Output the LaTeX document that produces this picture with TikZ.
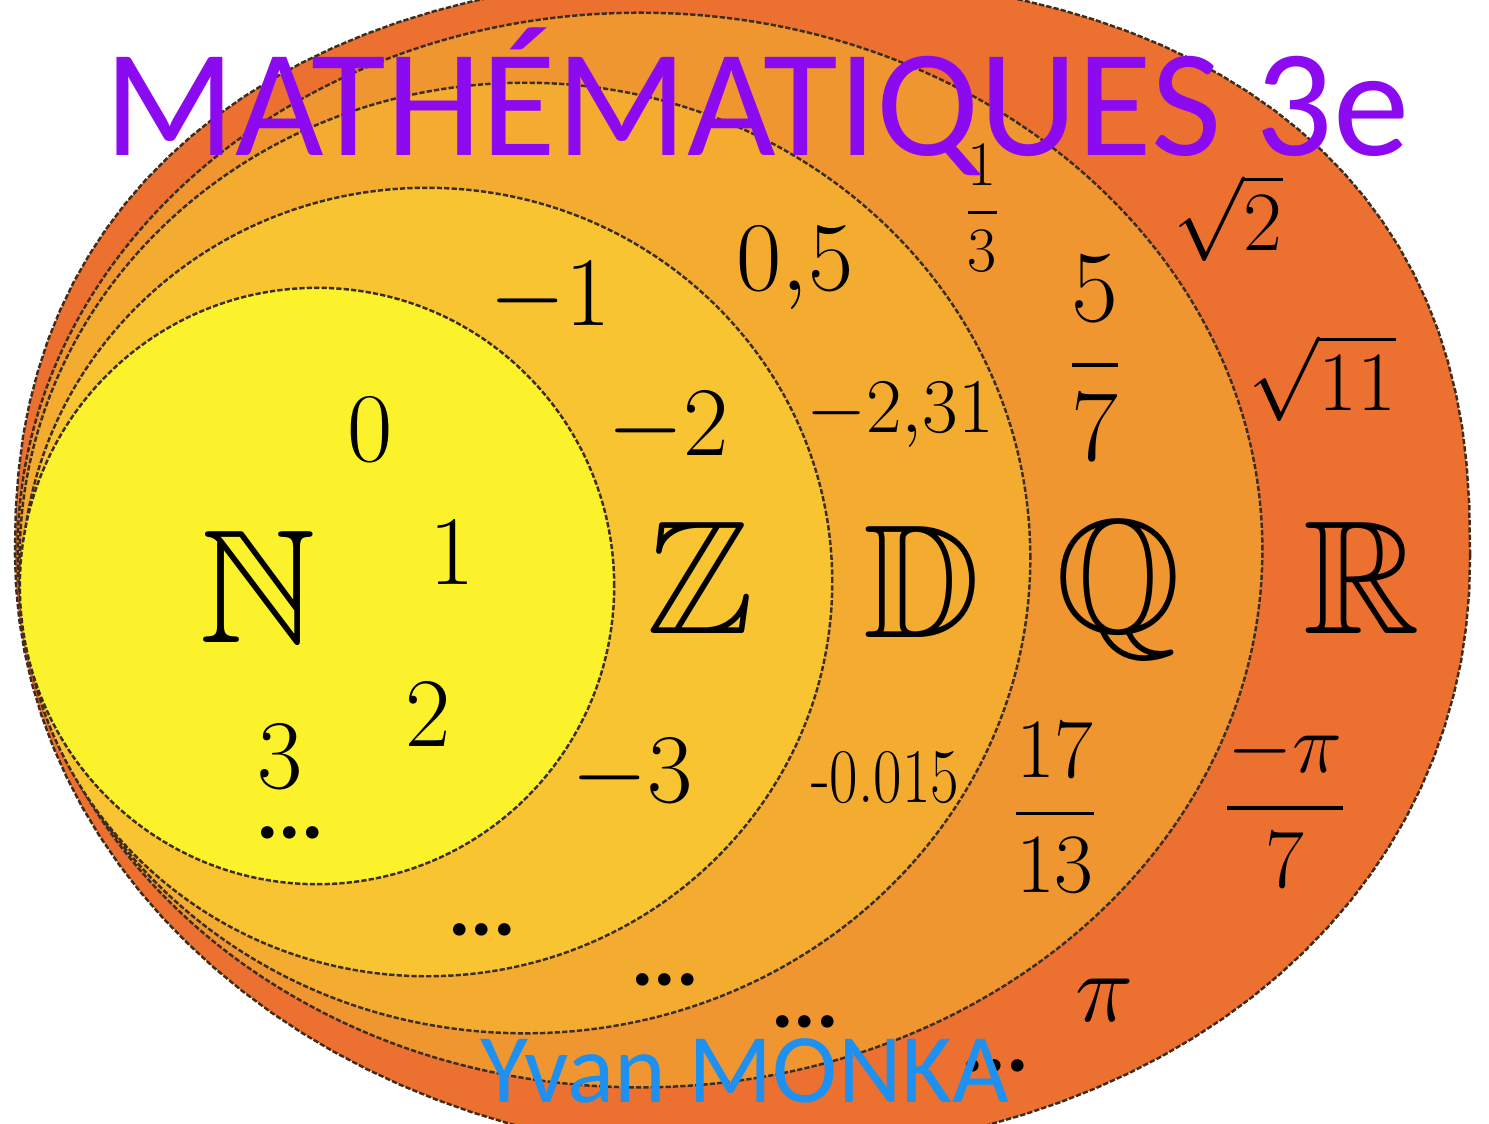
\RequirePackage{fix-cm}
\documentclass[tikz,border=0pt]{standalone}
\usepackage{amsmath}
\usepackage{amssymb}
\usepackage{fontspec}
\newfontfamily\titlefont{Carlito}
\usetikzlibrary{positioning}
\definecolor{setN}{RGB}{252,242,44}
\definecolor{setZ}{RGB}{248,196,50}
\definecolor{setD}{RGB}{243,172,48}
\definecolor{setQ}{RGB}{240,150,48}
\definecolor{setR}{RGB}{236,112,48}
\definecolor{rimcol}{RGB}{60,45,30}
\definecolor{titlepurple}{RGB}{140,10,240}
\definecolor{authorblue}{RGB}{30,144,240}

\begin{document}
\begin{tikzpicture}[
        x=0.01cm, y=-0.01cm,
        rim/.style={draw=rimcol, line width=0.7pt, dash pattern=on 1.5pt off 0.6pt},
        quarter/.style={domain=0:90, samples=30, variable=\s},
        setname/.style={font=\fontsize{46}{50}\selectfont, inner sep=0pt},
        num/.style={font=\fontsize{28}{30}\selectfont, inner sep=0pt},
        smallnum/.style={font=\fontsize{22}{24}\selectfont, inner sep=0pt},
        fracnum/.style={font=\fontsize{#1}{#1}\selectfont, inner sep=0pt},
        dots/.style={font=\titlefont\bfseries\fontsize{24}{26}\selectfont, inner sep=0pt},
    ]
    \useasboundingbox (0,0) rectangle (1489,1123);
    \clip (0,0) rectangle (1489,1123);

    % R: a rounder-cornered oval, one quarter at a time
    \draw[rim, fill=setR]
        plot[quarter] ({741+729*(cos(\s)+0.0001)^0.833}, {555-580*(sin(\s)+0.0001)^0.833})
        -- plot[quarter] ({741-726*(sin(\s)+0.0001)^0.87}, {555-580*(cos(\s)+0.0001)^0.87})
        -- plot[quarter] ({741-726*cos(\s)}, {555+600*sin(\s)})
        -- plot[quarter] ({741+729*(sin(\s)+0.0001)^0.952}, {555+600*(cos(\s)+0.0001)^0.952})
        -- cycle;
    \draw[rim, fill=setQ] (640,550) ellipse [x radius=6.22cm, y radius=5.37cm];
    \draw[rim, fill=setD] (525,558) ellipse [x radius=5.05cm, y radius=4.75cm];
    \draw[rim, fill=setZ] (427,582) ellipse [x radius=4.05cm, y radius=3.94cm];
    \draw[rim, fill=setN] (317,586) ellipse [x radius=2.97cm, y radius=2.98cm];

    \node[setname] (N) at (258,587) {$\mathbb{N}$};
    \node[setname] (Z) at (700,578) {$\mathbb{Z}$};
    \node[setname] (D) at (922,582) {$\mathbb{D}$};
    \node[setname] (Q) at (1118,590) {$\mathbb{Q}$};
    \node[setname] (R) at (1362,578) {$\mathbb{R}$};

    \node[num] (zero)  at (370,430) {$0$};
    \node[num] (one)   at (452,553) {$1$};
    \node[num] (two)   at (428,715) {$2$};
    \node[num] (three) at (280,757) {$3$};
    \node[dots] (ndots) at (290,833) {...};

    \node[num] (mone)   at (550,298) {$-1$};
    \node[num] (mtwo)   at (668,428) {$-2$};
    \node[num] (mthree) at (632,775) {$-3$};
    \node[dots] (zdots) at (482,930) {...};

    \node[num] (half) at (795,268) {$0{,}5$};
    \node[smallnum] (decone) at (900,415) {$-2{,}31$};
    \node[smallnum] (dectwo) at (885,778) {\scalebox{0.8}[1]{-0.015}};
    \node[dots] (ddots) at (665,980) {...};

    \node[fracnum=18] (third) at (982,208) {$\dfrac{1}{3}$};
    \node[fracnum=29] (fivesev) at (1095,358) {$\dfrac{5}{7}$};
    \node[fracnum=24] (sevthir) at (1055,808) {$\dfrac{17}{13}$};
    \node[dots] (qdots) at (805,1022) {...};

    \node[fracnum=24] (rttwo) at (1228,218) {$\sqrt{2}$};
    \node[fracnum=24] (rteleven) at (1322,378) {$\sqrt{11}$};
    \node[fracnum=24] (mpisev) at (1285,805) {$\dfrac{-\pi}{7}$};
    \node[num] (pi) at (1105,1000) {$\pi$};
    \node[dots] (rdots) at (995,1066) {...};

    \node[font=\titlefont\fontsize{43.5}{46}\selectfont, text=titlepurple,
        anchor=base, inner sep=0pt] (title) at (757,155) {MATHÉMATIQUES 3e};
    \node[font=\titlefont\fontsize{28}{30}\selectfont, text=authorblue,
        anchor=base, inner sep=0pt] (author) at (745,1102) {Yvan MONKA};
\end{tikzpicture}
\end{document}
